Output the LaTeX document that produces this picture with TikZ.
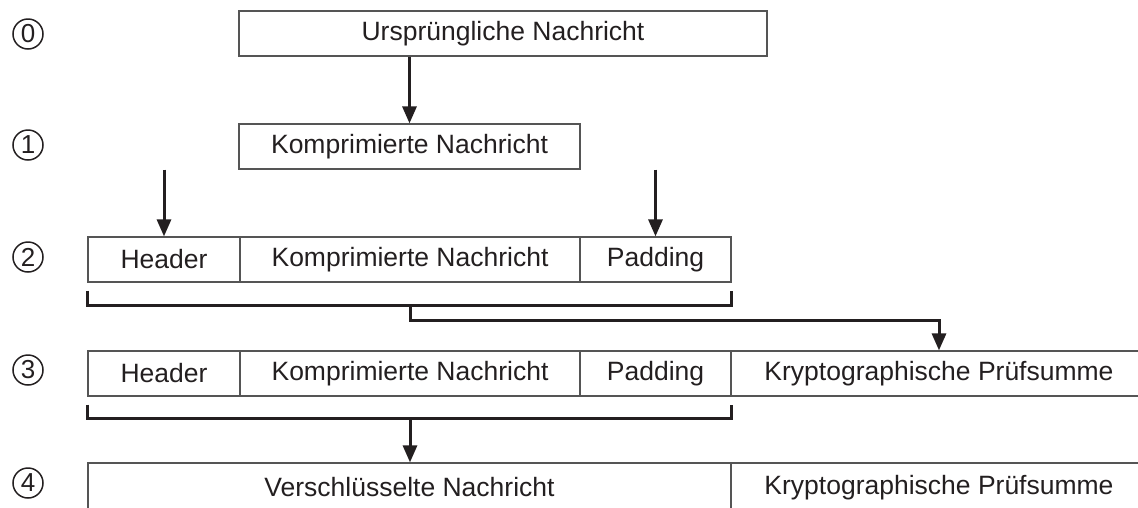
\documentclass[tikz,border=0pt]{standalone}
\usepackage{fontspec}
\setmainfont{Liberation Sans}
\usetikzlibrary{arrows.meta,calc}
\definecolor{ink}{RGB}{35,31,32}
\definecolor{frame}{RGB}{85,85,85}
\begin{document}
\begin{tikzpicture}[x=1pt,y=-1pt,
  cell/.style={draw=frame, line width=1.2pt, minimum height=45pt, inner sep=0pt,
    text=ink, font=\fontsize{26.5}{30}\selectfont},
  stepnum/.style={circle, draw=ink, line width=1.5pt, minimum size=30pt, inner sep=0pt,
    text=ink, font=\fontsize{26}{28}\selectfont},
  arr/.style={draw=ink, line width=3pt, -{Triangle[width=14pt,length=17pt]}},
  bracket/.style={draw=ink, line width=3.6pt, line join=miter}]
\useasboundingbox (0,0) rectangle (1138,507);
\clip (0,0) rectangle (1138,507);

% step numbers
\node[stepnum] (n0) at (28,34) {0};
\node[stepnum] (n1) at (28,145) {1};
\node[stepnum] (n2) at (28,257) {2};
\node[stepnum] (n3) at (28,370) {3};
\node[stepnum] (n4) at (28,483) {4};

% step 0 and 1
\node[cell, minimum width=528pt] (b0) at (503,33.5) {Ursprüngliche Nachricht};
\node[cell, minimum width=341pt] (b1) at (409.5,146.5) {Komprimierte Nachricht};

% step 2
\node[cell, minimum width=152pt] (h2) at (164,259.5) {Header};
\node[cell, minimum width=340pt] (k2) at (410,259.5) {Komprimierte Nachricht};
\node[cell, minimum width=151pt] (p2) at (655.5,259.5) {Padding};

% step 3
\node[cell, minimum width=152pt] (h3) at (164,373.5) {Header};
\node[cell, minimum width=340pt] (k3) at (410,373.5) {Komprimierte Nachricht};
\node[cell, minimum width=151pt] (p3) at (655.5,373.5) {Padding};
\node[cell, minimum width=416pt] (c3) at (939,373.5) {Kryptographische Prüfsumme};

% step 4 (the row runs on below the lower edge)
\node[cell, minimum width=643pt, minimum height=49pt] (v4) at (409.5,487.5) {Verschlüsselte Nachricht};
\node[cell, minimum width=416pt, minimum height=49pt] (c4) at (939,487.5) {Kryptographische Prüfsumme};

% compression
\draw[arr] (b1.north |- b0.south) -- (b1.north);
% header and padding added
\draw[arr] (h2.north |- b1.south) -- (h2.north);
\draw[arr] (p2.north |- b1.south) -- (p2.north);

% checksum over step 2
\draw[bracket] ($(h2.south west)+(0,8)$) -- ($(h2.south west)+(0,23)$)
  -- ($(p2.south east)+(0,23)$) -- ($(p2.south east)+(0,8)$);
\draw[arr] ($(k2.south)+(0,23)$) -- ($(k2.south)+(0,38)$) -| (c3.north);

% encryption of step 3
\draw[bracket] ($(h3.south west)+(0,8)$) -- ($(h3.south west)+(0,22)$)
  -- ($(p3.south east)+(0,22)$) -- ($(p3.south east)+(0,8)$);
\draw[arr] ($(k3.south)+(0,22)$) -- (v4.north -| k3.south);
\end{tikzpicture}
\end{document}
